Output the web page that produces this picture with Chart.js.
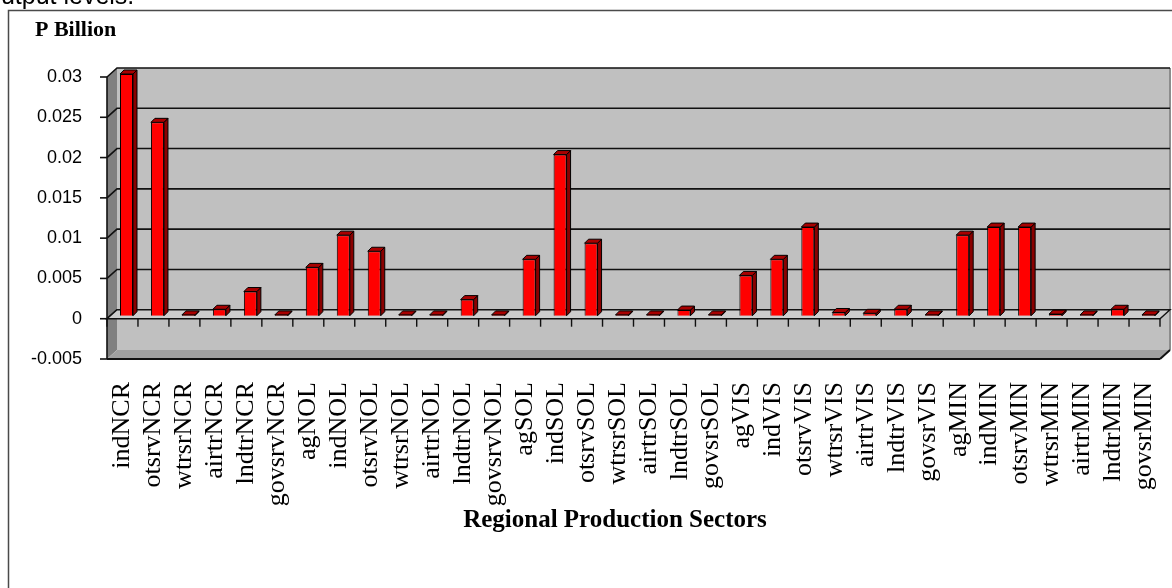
<!DOCTYPE html>
<html>
<head>
<meta charset="utf-8">
<script src="https://cdn.jsdelivr.net/npm/chart.js@4.4.1/dist/chart.umd.min.js"></script>
<style>
  html, body { margin: 0; padding: 0; background: #fff; overflow: hidden; }
  canvas { display: block; }
</style>
</head>
<body>
<canvas id="sectorChart" width="1172" height="588"></canvas>
<script>
// regional production sectors
const categories = [
  'indNCR', 'otsrvNCR', 'wtrsrNCR', 'airtrNCR', 'lndtrNCR', 'govsrvNCR',
  'agNOL', 'indNOL', 'otsrvNOL', 'wtrsrNOL', 'airtrNOL', 'lndtrNOL', 'govsrvNOL',
  'agSOL', 'indSOL', 'otsrvSOL', 'wtrsrSOL', 'airtrSOL', 'lndtrSOL', 'govsrSOL',
  'agVIS', 'indVIS', 'otsrvVIS', 'wtrsrVIS', 'airtrVIS', 'lndtrVIS', 'govsrVIS',
  'agMIN', 'indMIN', 'otsrvMIN', 'wtrsrMIN', 'airtrMIN', 'lndtrMIN', 'govsrMIN'
];
const outputValues = [
  0.03, 0.024, 0.0001, 0.0008, 0.003, 0.0001,
  0.006, 0.01, 0.008, 0.0001, 0.0001, 0.002, 0.0001,
  0.007, 0.02, 0.009, 0.0001, 0.0001, 0.0007, 0.0001,
  0.005, 0.007, 0.011, 0.0004, 0.0003, 0.0008, 0.0001,
  0.01, 0.011, 0.011, 0.0002, 0.0001, 0.0008, 0.0001
];
const tickValues = [-0.005, 0, 0.005, 0.01, 0.015, 0.02, 0.025, 0.03];
const tickLabels = ['-0.005', '0', '0.005', '0.01', '0.015', '0.02', '0.025', '0.03'];

const serif = '"Liberation Serif", "Times New Roman", serif';
const sans = '"Liberation Sans", Arial, sans-serif';
const depthX = 10, depthY = 9;

function poly(ctx, pts, fill, stroke) {
  ctx.beginPath();
  ctx.moveTo(pts[0][0], pts[0][1]);
  for (let i = 1; i < pts.length; i++) ctx.lineTo(pts[i][0], pts[i][1]);
  ctx.closePath();
  if (fill) { ctx.fillStyle = fill; ctx.fill(); }
  if (stroke) { ctx.strokeStyle = stroke; ctx.stroke(); }
}

function line(ctx, x1, y1, x2, y2) {
  ctx.beginPath();
  ctx.moveTo(x1, y1);
  ctx.lineTo(x2, y2);
  ctx.stroke();
}

// the excel style 3d box: walls, floor, grid, axis ticks, titles
const walls = {
  id: 'walls',
  beforeDraw(chart) {
    const { ctx, chartArea: a, scales: { y } } = chart;
    const bl = a.left + depthX, bt = a.top - depthY;
    const br = a.right + depthX, bb = a.bottom - depthY;
    ctx.save();

    ctx.fillStyle = '#000';
    ctx.font = '25px ' + sans;
    ctx.textBaseline = 'alphabetic';
    ctx.fillText('output levels.', -13, 4);

    ctx.strokeStyle = '#4a4a4a';
    ctx.lineWidth = 1.5;
    ctx.strokeRect(8.5, 10.5, 1400, 800);

    ctx.font = 'bold 22px ' + serif;
    ctx.fillText('P Billion', 35, 36);

    ctx.font = 'bold 25px ' + serif;
    ctx.textAlign = 'center';
    ctx.textBaseline = 'middle';
    ctx.fillText('Regional Production Sectors', 615, 521);
    ctx.textAlign = 'left';

    ctx.lineWidth = 1;
    ctx.fillStyle = '#c0c0c0';
    ctx.fillRect(bl, bt, br - bl, bb - bt);
    poly(ctx, [[a.left, a.top], [bl, bt], [bl, bb], [a.left, a.bottom]], '#808080', null);
    poly(ctx, [[a.left, a.bottom], [bl, bb], [br, bb], [a.right, a.bottom]], '#a0a0a0', null);

    ctx.strokeStyle = '#8c8c8c';
    ctx.lineWidth = 2;
    line(ctx, br, bt, br, bb);

    ctx.strokeStyle = '#111';
    ctx.lineWidth = 1.6;
    tickValues.forEach(v => {
      const yy = y.getPixelForValue(v);
      line(ctx, a.left - 7, yy, a.left, yy);
      if (v > tickValues[0]) {
        ctx.beginPath();
        ctx.moveTo(a.left, yy);
        ctx.lineTo(bl, yy - depthY);
        ctx.lineTo(br, yy - depthY);
        ctx.stroke();
      }
    });

    // category plane at zero
    const y0 = y.getPixelForValue(0);
    ctx.lineWidth = 1.4;
    poly(ctx, [[a.left, y0], [bl, y0 - depthY], [br, y0 - depthY], [a.right, y0]], '#cdcdcd', '#111');
    const step = (a.right - a.left) / categories.length;
    for (let k = 0; k <= categories.length; k++) {
      const xx = a.left + k * step;
      line(ctx, xx, y0, xx, y0 + 8);
    }

    ctx.lineWidth = 1.6;
    line(ctx, a.left, a.top, a.left, a.bottom);
    ctx.lineWidth = 2;
    line(ctx, a.left, a.bottom, a.right, a.bottom);
    line(ctx, a.right, a.bottom, br, bb);
    ctx.restore();
  }
};

// shift bars back to mid depth and give them a top and a side face
const bars3d = {
  id: 'bars3d',
  beforeDatasetsDraw(chart) {
    chart.ctx.save();
    chart.ctx.translate(4, -3);
  },
  afterDatasetsDraw(chart) {
    const ctx = chart.ctx;
    const d = 4;
    ctx.lineWidth = 1;
    chart.getDatasetMeta(0).data.forEach(bar => {
      const { x, y, base, width } = bar.getProps(['x', 'y', 'base', 'width'], true);
      const l = x - width / 2, r = x + width / 2;
      poly(ctx, [[r, y], [r + d, y - d], [r + d, base - d], [r, base]], '#8a0000', '#000');
      poly(ctx, [[l, y], [r, y], [r + d, y - d], [l + d, y - d]], '#a80000', '#000');
    });
    ctx.restore();
  }
};

new Chart(document.getElementById('sectorChart'), {
  type: 'bar',
  data: {
    labels: categories,
    datasets: [{
      label: 'P Billion',
      data: outputValues,
      backgroundColor: '#ff0000',
      borderColor: '#000',
      borderWidth: 1,
      barPercentage: 0.42,
      categoryPercentage: 1,
      clip: false
    }]
  },
  options: {
    responsive: false,
    animation: false,
    layout: { padding: { left: 0, top: 77, right: 12, bottom: 0 } },
    plugins: { legend: { display: false }, tooltip: { enabled: false } },
    scales: {
      x: {
        grid: { display: false, drawTicks: false },
        border: { display: false },
        ticks: {
          color: '#000',
          font: { family: serif, size: 26 },
          minRotation: 90,
          maxRotation: 90,
          autoSkip: false,
          padding: 23
        },
        afterFit(scale) {
          scale.height = 229;
          scale.paddingLeft = 0;
          scale.paddingRight = 0;
        }
      },
      y: {
        min: -0.005,
        max: 0.03,
        grid: { display: false, drawTicks: false },
        border: { display: false },
        afterBuildTicks(scale) {
          scale.ticks = tickValues.map(v => ({ value: v }));
        },
        ticks: {
          color: '#000',
          font: { family: sans, size: 18 },
          padding: 25,
          callback: (v, i) => tickLabels[i]
        },
        afterFit(scale) { scale.width = 107; }
      }
    }
  },
  plugins: [walls, bars3d]
});
</script>
</body>
</html>
